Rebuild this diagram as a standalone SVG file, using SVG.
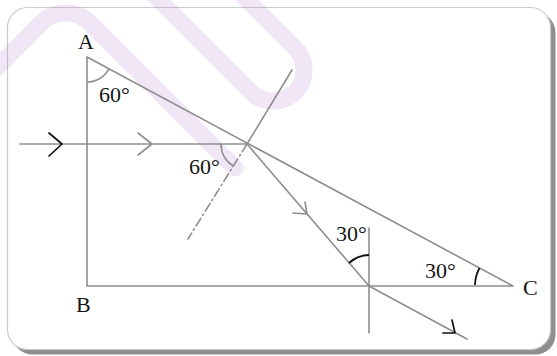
<svg xmlns="http://www.w3.org/2000/svg" width="557" height="356" viewBox="0 0 557 356">
<style>
.ln{fill:none;stroke:#8e8e8e;stroke-width:1.6;stroke-linecap:round;stroke-linejoin:round}
.blk{fill:none;stroke:#111;stroke-width:1.7;stroke-linecap:round;stroke-linejoin:round}
.arc{fill:none;stroke:#8e8e8e;stroke-width:1.6}
.arcb{fill:none;stroke:#111;stroke-width:1.8}
.t{font-family:"Liberation Serif","Times New Roman",serif;font-size:22px;fill:#151515}
.wm{fill:none;stroke:#b680cf;stroke-opacity:0.2;stroke-width:17;stroke-linecap:round;stroke-linejoin:round}
</style>
<rect width="557" height="356" fill="#ffffff"/>
<g id="frame">
<rect x="12.5" y="12.5" width="543" height="342" rx="20" fill="#8f8f8f"/>
<rect x="7.5" y="7.5" width="543" height="342" rx="20" fill="#ffffff" stroke="#cacaca" stroke-width="1.2"/>
</g>
<g id="watermark">
<path class="wm" d="M-25 90 L40.8 23.3 A35 35 0 0 1 90.2 23.3 L235 168"/>
<path class="wm" d="M145 -14 L251 92 A31 31 0 0 0 295 48 L235 -12"/>
</g>
<g id="prism">
<path class="ln" d="M87 57 L87 286 L513 286 Z"/>
</g>
<g id="rays">
<line class="ln" x1="20" y1="144" x2="247" y2="144"/>
<line class="ln" x1="292" y1="70" x2="247" y2="144"/>
<line class="ln" x1="247" y1="144" x2="188" y2="239" stroke-dasharray="9 3.5 1.5 3.5"/>
<line class="ln" x1="247" y1="144" x2="369" y2="286"/>
<line class="ln" x1="369" y1="228" x2="369" y2="333"/>
<line class="ln" x1="369" y1="286" x2="467" y2="339"/>
<polyline class="blk" points="49,133 62,144 49,156"/>
<polyline class="ln" points="138,133 152,144 138,155"/>
<polyline class="ln" points="305,202 307,214 293,213"/>
<polyline class="blk" points="452,320 455,333 443,333"/>
</g>
<g id="angles">
<path class="arc" d="M87 82 A25 25 0 0 0 109 68.9"/>
<path class="arc" d="M221 144 A26 26 0 0 0 233.5 166.2"/>
<path class="arcb" d="M349 263 A31 31 0 0 1 369 255"/>
<path class="arcb" d="M479.5 268 A38 38 0 0 0 475 285"/>
</g>
<g id="labels">
<text class="t" x="78" y="49">A</text>
<text class="t" x="99" y="102">60°</text>
<text class="t" x="189" y="174">60°</text>
<text class="t" x="76" y="312">B</text>
<text class="t" x="336" y="241">30°</text>
<text class="t" x="425" y="278">30°</text>
<text class="t" x="523" y="295">C</text>
</g>
</svg>
